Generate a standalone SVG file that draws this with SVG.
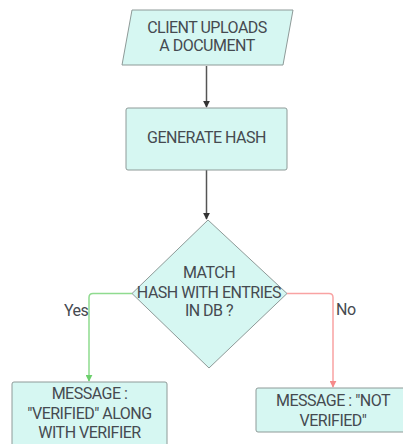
<svg xmlns="http://www.w3.org/2000/svg" width="403" height="444" viewBox="0 0 403 444">
<defs>
<style>
.node{fill:#d6f7f2;stroke:#8e9a98;stroke-width:1}
.t{font-family:Roboto,"Liberation Sans",sans-serif;font-size:16px;letter-spacing:-0.5px;fill:#454a50;text-anchor:middle}
.lbl{font-family:Roboto,"Liberation Sans",sans-serif;font-size:16px;letter-spacing:-0.5px;fill:#454a50}
.c{fill:none;stroke-width:1.5}
</style>
<marker id="ah" viewBox="0 0 10 10" refX="9" refY="5" markerWidth="7" markerHeight="7" markerUnits="userSpaceOnUse" orient="auto"><path d="M0,0 L10,5 L0,10 z" fill="#333"/></marker>
<marker id="ahg" viewBox="0 0 10 10" refX="9" refY="5" markerWidth="7" markerHeight="7" markerUnits="userSpaceOnUse" orient="auto"><path d="M0,0 L10,5 L0,10 z" fill="#6cd06c"/></marker>
<marker id="ahr" viewBox="0 0 10 10" refX="9" refY="5" markerWidth="7" markerHeight="7" markerUnits="userSpaceOnUse" orient="auto"><path d="M0,0 L10,5 L0,10 z" fill="#f68a8a"/></marker>
</defs>
<g id="connectors">
<path class="c" d="M206.5,66 V107" stroke="#555" marker-end="url(#ah)"/>
<path class="c" d="M206.5,170 V219" stroke="#555" marker-end="url(#ah)"/>
<path class="c" d="M132,293.5 H93 Q89,293.5 89,297.5 V381" stroke="#8fdb8f" marker-end="url(#ahg)"/>
<path class="c" d="M287,293.5 H329 Q333,293.5 333,297.5 V387" stroke="#f9a3a3" marker-end="url(#ahr)"/>
<text class="lbl" x="64" y="316">Yes</text>
<text class="lbl" x="336" y="315">No</text>
</g>
<g id="n1">
<path class="node" d="M132,10 H293 L283,65 H122 Z"/>
<text class="t" x="207" y="33">CLIENT UPLOADS</text>
<text class="t" x="207" y="51">A DOCUMENT</text>
</g>
<g id="n2">
<rect class="node" x="126" y="108" width="161" height="62" rx="2"/>
<text class="t" x="206.5" y="143">GENERATE HASH</text>
</g>
<g id="n3">
<path class="node" d="M208,220 L287,293.5 L209,368 L132,293.5 Z"/>
<text class="t" x="209" y="278">MATCH</text>
<text class="t" x="209" y="298">HASH WITH ENTRIES</text>
<text class="t" x="209" y="316">IN DB ?</text>
</g>
<g id="n4">
<rect class="node" x="12" y="382" width="155" height="70" rx="2"/>
<text class="t" x="89.5" y="399">MESSAGE :</text>
<text class="t" x="89.5" y="419">"VERIFIED" ALONG</text>
<text class="t" x="89.5" y="438">WITH VERIFIER</text>
</g>
<g id="n5">
<rect class="node" x="256" y="388" width="160" height="44" rx="2"/>
<text class="t" x="333" y="406">MESSAGE : "NOT</text>
<text class="t" x="333" y="426">VERIFIED"</text>
</g>
</svg>
